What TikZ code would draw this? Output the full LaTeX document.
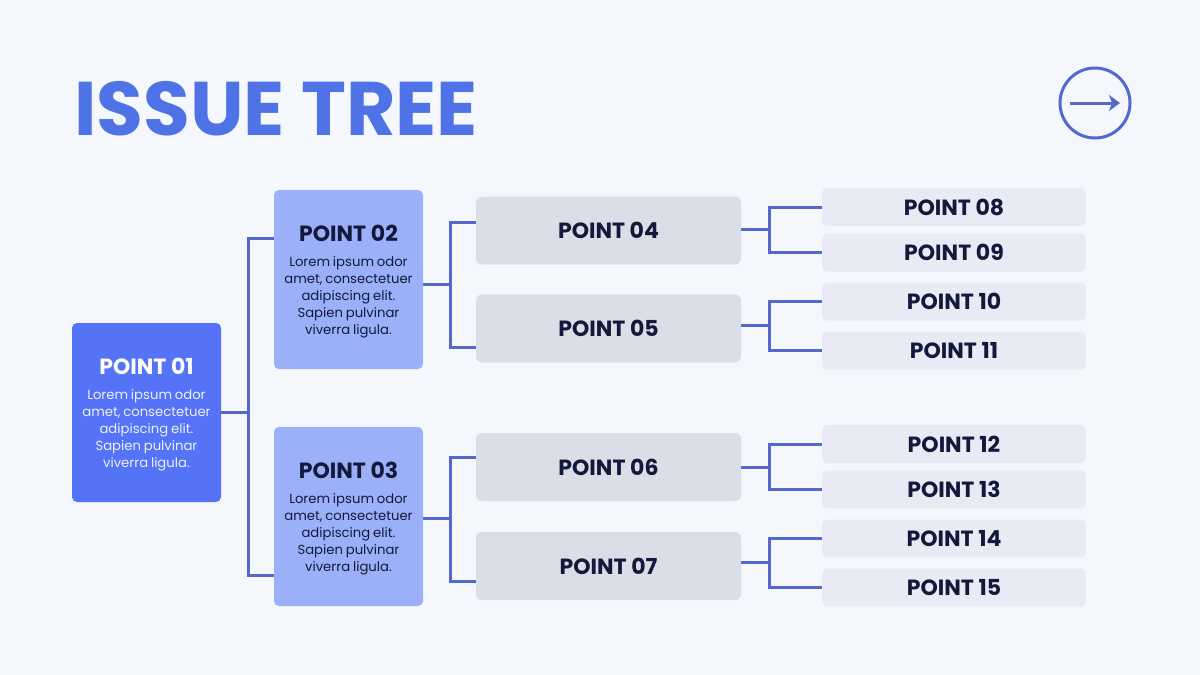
\documentclass[tikz,border=0pt]{standalone}
\usepackage{fontspec}
\setmainfont{Poppins}
\newfontfamily\bodyfamily{Poppins}[WordSpace=0.8]
\usetikzlibrary{arrows.meta}

\definecolor{pagebg}{HTML}{F4F8FD}
\definecolor{headblue}{HTML}{4F72E6}
\definecolor{rootblue}{HTML}{5473F6}
\definecolor{midblue}{HTML}{9CB0FA}
\definecolor{greybox}{HTML}{DBDEE6}
\definecolor{leafbox}{HTML}{E8EBF4}
\definecolor{linkblue}{HTML}{5468CE}
\definecolor{navy}{HTML}{13193A}

\newcommand{\ptitle}{\bfseries\fontsize{11}{13}\selectfont}
\newcommand{\pbody}{\bodyfamily\fontsize{6.6}{8.5}\selectfont}
\newcommand{\lorem}{Lorem ipsum odor\\amet, consectetuer\\adipiscing elit.\\Sapien pulvinar\\viverra ligula.\par}

\tikzset{
  rootbox/.style={fill=rootblue, rounded corners=2.5pt, minimum width=74.5pt, minimum height=89.5pt,
    text width=72pt, inner sep=1pt, align=flush center, text=white},
  midbox/.style={fill=midblue, rounded corners=2.5pt, minimum width=74.5pt, minimum height=89.5pt,
    text width=72pt, inner sep=1pt, align=flush center, text=navy},
  greybox/.style={fill=greybox, rounded corners=3pt, minimum width=132.5pt, minimum height=34pt,
    text=navy, font=\ptitle},
  leafbox/.style={fill=leafbox, rounded corners=2.5pt, minimum width=132pt, minimum height=19pt,
    text=navy, font=\ptitle},
  link/.style={draw=linkblue, line width=1.5pt},
}

\begin{document}
\begin{tikzpicture}[x=0.5pt, y=-0.5pt]
                \fill[pagebg] (0,0) rectangle (1200,675);
                \useasboundingbox (0,0) rectangle (1200,675);

                % Heading
                \node[anchor=base west, inner sep=0pt, text=headblue, font=\bfseries\fontsize{38}{40}\selectfont] (head) at (74,135) {ISSUE TREE};
                \node[circle, draw=linkblue, line width=1.5pt, minimum size=35pt, inner sep=0pt] (next) at (1095,103) {};
                \draw[linkblue, line width=1.5pt, -{Stealth[length=5.5pt, width=8pt, inset=1.5pt]}] ([xshift=-12.5pt]next.center) -- ([xshift=12.5pt]next.center);

                % Nodes
                \node[rootbox] (p01) at (146.5,412.5) {{\ptitle\rule{0pt}{10.7pt}POINT 01\par}\vspace{4pt}{\pbody\color{white!90!rootblue}\lorem}};
                \node[midbox] (p02) at (348.5,279.5) {{\ptitle\rule{0pt}{10.7pt}POINT 02\par}\vspace{4pt}{\pbody\lorem}};
                \node[midbox] (p03) at (348.5,516.5) {{\ptitle\rule{0pt}{10.7pt}POINT 03\par}\vspace{4pt}{\pbody\lorem}};
                \node[greybox] (p04) at (608.5,230.5) {POINT 04};
                \node[greybox] (p05) at (608.5,328.5) {POINT 05};
                \node[greybox] (p06) at (608.5,467) {POINT 06};
                \node[greybox] (p07) at (608.5,566) {POINT 07};
                \node[leafbox] (p08) at (954,207) {POINT 08};
                \node[leafbox] (p09) at (954,252.5) {POINT 09};
                \node[leafbox] (p10) at (954,301.5) {POINT 10};
                \node[leafbox] (p11) at (954,350.5) {POINT 11};
                \node[leafbox] (p12) at (954,444) {POINT 12};
                \node[leafbox] (p13) at (954,489.5) {POINT 13};
                \node[leafbox] (p14) at (954,538.5) {POINT 14};
                \node[leafbox] (p15) at (954,587.5) {POINT 15};

                % Branch points
                \coordinate (b1) at (248,412.5);
                \coordinate (b2) at (450,284);
                \coordinate (b3) at (450,518);
                \coordinate (b4) at (769,229);
                \coordinate (b5) at (769,325);
                \coordinate (b6) at (769,467);
                \coordinate (b7) at (769,562);

                % Edges
                \draw[link] (p01) -- (b1);
                \draw[link] (p02.west |- 0,238) -| (b1);
                \draw[link] (p03.west |- 0,575) -| (b1);
                \draw[link] (p02.east |- b2) -- (b2);
                \draw[link] (p04.west |- 0,222) -| (b2);
                \draw[link] (p05.west |- 0,347) -| (b2);
                \draw[link] (p03.east |- b3) -- (b3);
                \draw[link] (p06.west |- 0,457) -| (b3);
                \draw[link] (p07.west |- 0,581) -| (b3);
                \draw[link] (p04.east |- b4) -- (b4);
                \draw[link] (p08) -| (b4);
                \draw[link] (p09) -| (b4);
                \draw[link] (p05.east |- b5) -- (b5);
                \draw[link] (p10) -| (b5);
                \draw[link] (p11) -| (b5);
                \draw[link] (p06.east |- b6) -- (b6);
                \draw[link] (p12) -| (b6);
                \draw[link] (p13) -| (b6);
                \draw[link] (p07.east |- b7) -- (b7);
                \draw[link] (p14) -| (b7);
                \draw[link] (p15) -| (b7);
\end{tikzpicture}
\end{document}
